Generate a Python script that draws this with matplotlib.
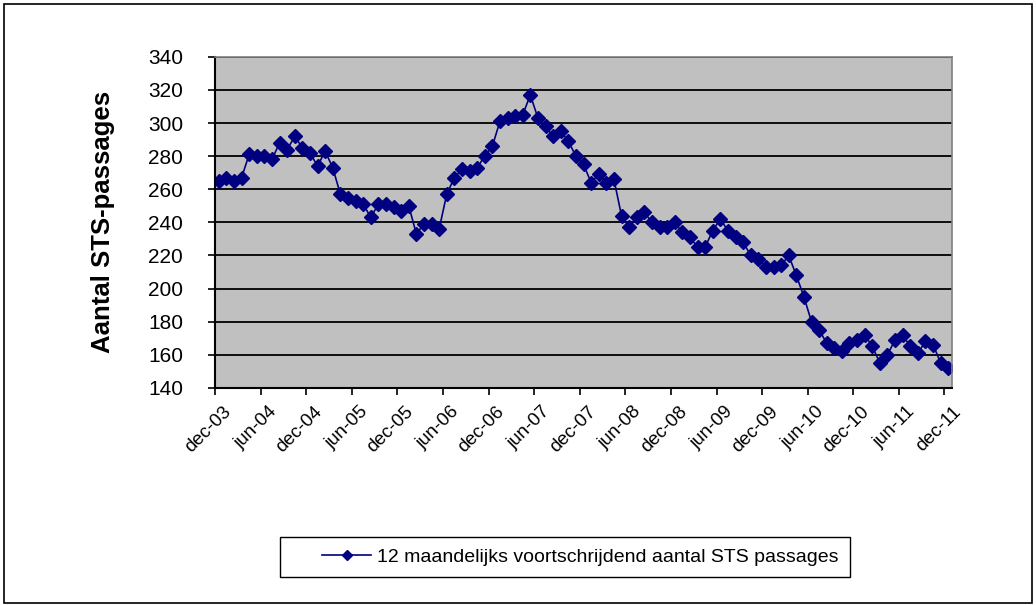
import matplotlib.pyplot as plt
from matplotlib.patches import Rectangle

plt.rcParams["font.family"] = ["Liberation Sans", "DejaVu Sans"]

# 12-month rolling number of STS passages, monthly from dec-03 to dec-11
passages = [
    265, 267, 265, 267, 281, 280, 280, 278, 288, 284, 292, 285, 282,
    274, 283, 273, 257, 255, 253, 251, 243, 251, 251, 249, 247, 250,
    233, 239, 239, 236, 257, 267, 272, 271, 273, 280, 286, 301, 303,
    304, 305, 317, 303, 298, 292, 295, 289, 280, 275, 264, 269, 264,
    266, 244, 237, 243, 246, 240, 237, 237, 240, 234, 231, 225, 225,
    235, 242, 235, 231, 228, 220, 218, 213, 213, 214, 220, 208, 195,
    180, 175, 167, 164, 162, 167, 169, 172, 165, 155, 160, 169, 172,
    165, 161, 168, 166, 155, 152,
]
tick_labels = ["dec-03", "jun-04", "dec-04", "jun-05", "dec-05", "jun-06",
               "dec-06", "jun-07", "dec-07", "jun-08", "dec-08", "jun-09",
               "dec-09", "jun-10", "dec-10", "jun-11", "dec-11"]
y_ticks = list(range(140, 341, 20))

n = len(passages)
x = list(range(n))

fig = plt.figure(figsize=(10.36, 6.05), dpi=100)
fig.patches.append(Rectangle((0.004, 0.004), 0.992, 0.99, transform=fig.transFigure,
                             fill=False, edgecolor="black", linewidth=1.2))

ax = fig.add_axes([0.2075, 0.359, 0.7115, 0.547])
ax.set_facecolor("#C0C0C0")
ax.plot(x, passages, color="#000080", linewidth=1.2, marker="D", markersize=7,
        label="12 maandelijks voortschrijdend aantal STS passages")

ax.set_xlim(-0.5, n - 0.5)
ax.set_ylim(140, 340)
ax.set_yticks(y_ticks)
ax.yaxis.grid(True, color="black", linewidth=1.3)
ax.set_axisbelow(True)

# tick marks on category boundaries, labels under the categories
ax.set_xticks([i - 0.5 for i in range(0, n, 6)])
ax.set_xticklabels([])
ax.set_xticks([i + 0.5 for i in range(0, n, 6)], minor=True)
ax.set_xticklabels(tick_labels, minor=True, rotation=45, ha="right",
                   rotation_mode="anchor", fontsize=13.5)
ax.tick_params(axis="x", which="minor", length=0, pad=11)
ax.tick_params(axis="x", which="major", length=5, width=1.2, direction="out")
ax.tick_params(axis="y", labelsize=15, length=5, width=1.2, pad=18)

for side in ["left", "bottom"]:
    ax.spines[side].set_linewidth(1.5)
    ax.spines[side].set_color("black")
for side in ["top", "right"]:
    ax.spines[side].set_color("#808080")
    ax.spines[side].set_linewidth(1.2)

ax.set_ylabel("Aantal STS-passages", fontsize=18.5, fontweight="bold", labelpad=24)

# legend box drawn by hand, entry placed inside it
fig.patches.append(Rectangle((0.270, 0.0463), 0.550, 0.066, transform=fig.transFigure,
                             fill=False, edgecolor="black", linewidth=1.0))
leg = fig.legend(loc="center left", bbox_to_anchor=(0.311, 0.0795), fontsize=14,
                 frameon=False, handlelength=2.5, handletextpad=0.3,
                 borderpad=0, borderaxespad=0)
leg.legend_handles[0].set_markersize(5)

plt.savefig("out.png", dpi=100)
